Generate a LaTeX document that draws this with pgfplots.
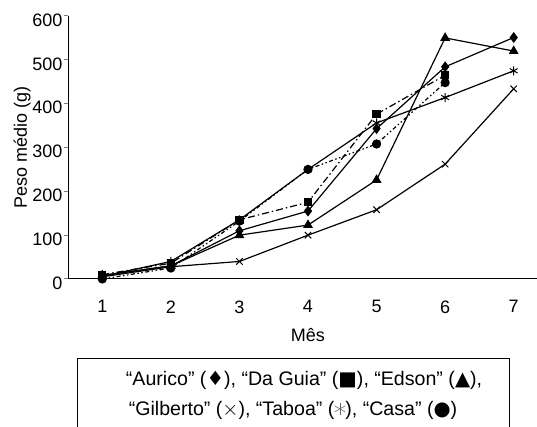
\documentclass[border=0pt]{standalone}
\usepackage{pgfplots}
\pgfplotsset{compat=1.18}
\usepackage{fontspec}
\setmainfont{Liberation Sans}
\newfontfamily\symfont{DejaVu Sans}
\usetikzlibrary{plotmarks}
\newcommand{\fs}{\fontsize{18}{21}\selectfont}
\newcommand{\fl}{\fontsize{19.6}{23}\selectfont}
\begin{document}
\begin{tikzpicture}[x=1pt,y=1pt]
\useasboundingbox (0,0) rectangle (537,427);
\begin{axis}[
  at={(68pt,148pt)}, anchor=south west,
  scale only axis, width=480pt, height=263pt,
  xmin=0.5, xmax=7.5, ymin=0, ymax=600,
  axis x line*=bottom, axis y line*=left,
  axis line style={-, line width=1pt},
  xtick={1,2,3,4,5,6,7},
  xtick style={draw=none},
  minor xtick={0.5,1.5,2.5,3.5,4.5,5.5,6.5,7.5},
  minor tick length=5pt,
  minor tick style={line width=1pt},
  ytick={0,100,200,300,400,500,600},
  ytick style={line width=1pt},
  major tick length=4pt,
  tick align=outside,
  /pgf/number format/assume math mode=true,
  ticklabel style={font=\fs},
  yticklabel style={yshift=-4pt, xshift=2pt},
  xticklabel style={yshift=-14pt},
  xlabel={Mês}, ylabel={Peso médio (g)},
  label style={font=\fs},
  xlabel style={yshift=-8pt},
  ylabel style={yshift=-5pt},
  every axis plot/.append style={line width=1.2pt, black},
  clip=false,
]
% Aurico
\addplot[mark=diamond*, mark size=4.5pt, mark options={solid, fill=black}] coordinates {(1,8) (2,30) (3,110) (4,155) (5,343) (6,484) (7,551)};
% Da Guia
\addplot[dash pattern=on 7pt off 3pt on 1.5pt off 3pt, mark=square*, mark size=3.5pt, mark options={solid, fill=black}] coordinates {(1,10) (2,36) (3,135) (4,175) (5,376) (6,465)};
% Edson
\addplot[mark=triangle*, mark size=4.5pt, mark options={solid, fill=black}] coordinates {(1,8) (2,30) (3,100) (4,123) (5,226) (6,550) (7,520)};
% Gilberto
\addplot[mark=x, mark size=4.5pt, mark options={solid, line width=1pt}] coordinates {(1,5) (2,28) (3,40) (4,100) (5,158) (6,262) (7,434)};
% Taboa
\addplot[mark=asterisk, mark size=4.5pt, mark options={solid, line width=1pt}] coordinates {(1,6) (2,40) (3,135) (4,250) (5,356) (6,414) (7,475)};
% Casa
\addplot[dash pattern=on 4pt off 2.5pt on 1.5pt off 2.5pt on 1.5pt off 2.5pt, mark=*, mark size=4pt, mark options={solid, fill=black}] coordinates {(1,0) (2,25) (3,132) (4,250) (5,308) (6,448)};
\end{axis}
\draw[line width=1pt] (77,68) rectangle (509,-10);
\node[font=\fl, inner sep=0pt] at (304,47) {“Aurico” ({\symfont ♦}), “Da Guia” ({\symfont ■}), “Edson” ({\symfont ▲}),};
\node[font=\fl, inner sep=0pt] at (293,17) {“Gilberto” ($\times$), “Taboa” (\tikz[baseline=-0.6ex]{\foreach \a in {90,30,150}\draw[black!60, line width=0.6pt] (\a:6pt)--(\a+180:6pt);}), “Casa” ({\symfont ●})};
\end{tikzpicture}
\end{document}
